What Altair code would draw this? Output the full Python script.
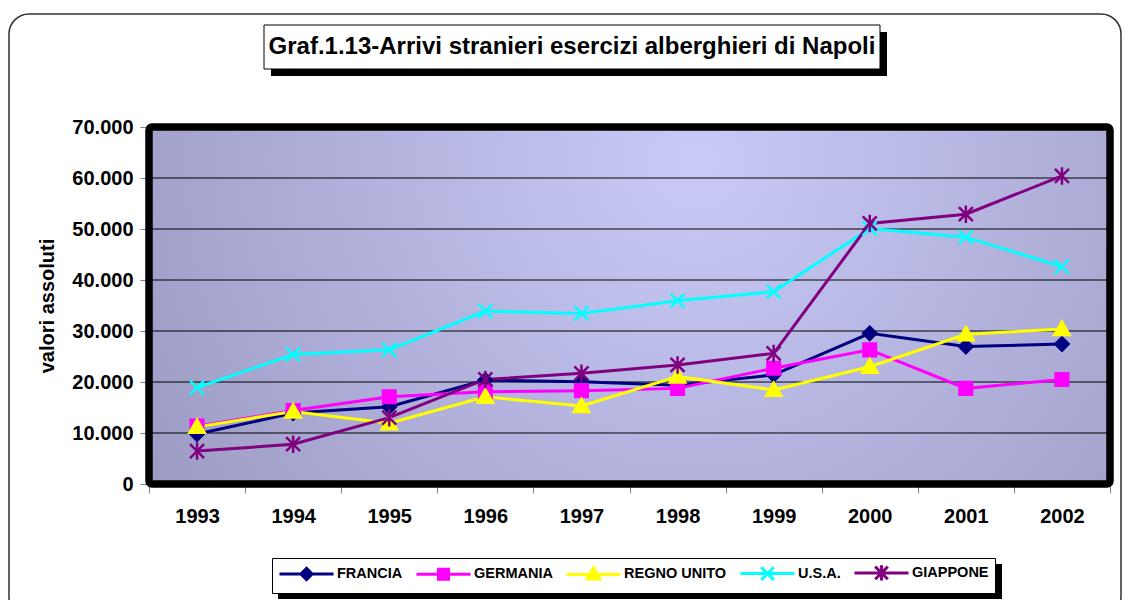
import altair as alt
import pandas as pd

# ---------------- data ----------------
years = ["1993", "1994", "1995", "1996", "1997", "1998", "1999", "2000", "2001", "2002"]
francia = [9800, 13900, 15150, 20400, 20050, 19350, 21400, 29550, 26950, 27450]
germania = [11350, 14400, 17100, 18100, 18300, 18750, 22700, 26300, 18750, 20500]
regno_unito = [11200, 14200, 11900, 17100, 15300, 21050, 18450, 23000, 29350, 30400]
usa = [18900, 25400, 26300, 33900, 33450, 35950, 37700, 50100, 48400, 42600]
giappone = [6450, 7800, 13000, 20500, 21700, 23350, 25600, 51100, 52900, 60400]

series_names = ["FRANCIA", "GERMANIA", "REGNO UNITO", "U.S.A.", "GIAPPONE"]
series_colors = ["#000080", "#FF00FF", "#FFFF00", "#00FFFF", "#800080"]
y_ticks = [0, 10000, 20000, 30000, 40000, 50000, 60000, 70000]
grid_values = [10000, 20000, 30000, 40000, 50000, 60000]
title_text = "Graf.1.13-Arrivi stranieri esercizi alberghieri di Napoli"
y_title = "valori assoluti"

# marker shapes (unit = sqrt(size)/2)
marker_paths = [
    "M0,-0.95L0.95,0L0,0.95L-0.95,0Z",
    "M-0.9,-0.9H0.9V0.9H-0.9Z",
    "M0,-1.05L1.1,0.85H-1.1Z",
    "M-1,-1L1,1M-1,1L1,-1",
    "M-1,-1L1,1M-1,1L1,-1M0,-1.25V1.25",
]
# legend symbols: line with marker
legend_paths = [
    "M-3.86,0H3.86M0,-0.8L0.8,0L0,0.8L-0.8,0Z",
    "M-3.86,0H3.86M-0.72,-0.72H0.72V0.72H-0.72Z",
    "M-3.86,0H3.86M0,-0.95L0.9,0.65H-0.9Z",
    "M-3.86,0H3.86M-0.9,-0.9L0.9,0.9M-0.9,0.9L0.9,-0.9",
    "M-3.86,0H3.86M-0.9,-0.9L0.9,0.9M-0.9,0.9L0.9,-0.9M0,-1.1V1.1",
]

all_series = [francia, germania, regno_unito, usa, giappone]
rows = []
for name, vals in zip(series_names, all_series):
    for yr, v in zip(years, vals):
        rows.append({"year": yr, "series": name, "value": v})
df = pd.DataFrame(rows)
grid_df = pd.DataFrame({"value": grid_values})
one = pd.DataFrame({"k": [0]})

W, H = 961, 357
FONT = "Liberation Sans"

x_scale = alt.Scale(domain=years, paddingInner=0, paddingOuter=0)
y_scale = alt.Scale(domain=[0, 70000], nice=False, zero=True)

x_axis = alt.Axis(title=None, domain=False, grid=False, tickBand="extent", tickSize=9,
                  tickColor="#808080", labelFont=FONT, labelFontSize=20, labelFontWeight="bold",
                  labelColor="black", labelPadding=13, labelAngle=0)
y_axis = alt.Axis(title=y_title, values=y_ticks, domain=False, grid=False, tickSize=9,
                  tickColor="#808080",
                  labelExpr="replace(format(datum.value, ','), ',', '.')",
                  labelFont=FONT, labelFontSize=20, labelFontWeight="bold", labelColor="black",
                  labelPadding=7, titleFont=FONT, titleFontSize=20, titleFontWeight="bold",
                  titleColor="black", titleX=-102, titleY=178.5, titleAngle=270,
                  titleAlign="center", titleBaseline="middle")

X = alt.X("year:N", scale=x_scale, sort=years, axis=x_axis)
Y = alt.Y("value:Q", scale=y_scale, axis=y_axis)

gradient = {
    "gradient": "radial",
    "x1": 0.57, "y1": 0.35, "r1": 0,
    "x2": 0.57, "y2": 0.35, "r2": 0.68,
    "stops": [
        {"offset": 0, "color": "#cacaf8"},
        {"offset": 1, "color": "#9a9ac2"},
    ],
}

# outer rounded frame
frame = alt.Chart(one).mark_rect(fillOpacity=0, stroke="#303030", strokeWidth=1.5,
                                 cornerRadius=20).encode(
    x=alt.value(-140), x2=alt.value(972), y=alt.value(-113), y2=alt.value(490))

bg = alt.Chart(one).mark_rect(fill=gradient).encode(
    x=alt.value(0), x2=alt.value(W), y=alt.value(0), y2=alt.value(H))

grid = alt.Chart(grid_df).mark_rule(color="black", strokeWidth=1).encode(y=Y)

lines = alt.Chart(df).mark_line(strokeWidth=3).encode(
    x=X, y=Y,
    stroke=alt.Stroke("series:N", scale=alt.Scale(domain=series_names, range=series_colors),
                      legend=None),
    order=alt.Order("year:N"),
)

points = alt.Chart(df).mark_point(filled=True, opacity=1, size=196, strokeWidth=2.5).encode(
    x=X, y=Y,
    fill=alt.Fill("series:N", scale=alt.Scale(domain=series_names, range=series_colors),
                  legend=None),
    stroke=alt.Stroke("series:N", scale=alt.Scale(domain=series_names, range=series_colors),
                      legend=None),
    shape=alt.Shape("series:N", scale=alt.Scale(domain=series_names, range=marker_paths),
                    legend=None),
)

leg = alt.Legend(orient="none", legendX=123, legendY=431, direction="horizontal", title=None,
                 symbolSize=196, symbolStrokeWidth=3, symbolOffset=20, labelOffset=22,
                 labelFont=FONT, labelFontSize=14.5, labelFontWeight="bold", labelColor="black",
                 columnPadding=7, padding=6, fillColor="white", strokeColor="black",
                 labelLimit=0, symbolOpacity=1)

legend_layer = alt.Chart(df).transform_filter("datum.value < 0").mark_point(filled=True).encode(
    x=X, y=Y,
    fill=alt.Fill("series:N", scale=alt.Scale(domain=series_names, range=series_colors),
                  legend=leg),
    stroke=alt.Stroke("series:N", scale=alt.Scale(domain=series_names, range=series_colors),
                      legend=leg),
    shape=alt.Shape("series:N", scale=alt.Scale(domain=series_names, range=legend_paths),
                    legend=leg),
)

legend_shadow = alt.Chart(one).mark_rect(fill="black").encode(
    x=alt.value(129), x2=alt.value(853), y=alt.value(437), y2=alt.value(472))

plot_border = alt.Chart(one).mark_rect(fillOpacity=0, stroke="black", strokeWidth=7.5,
                                       cornerRadius=3).encode(
    x=alt.value(0), x2=alt.value(W), y=alt.value(0), y2=alt.value(H))

title_shadow = alt.Chart(one).mark_rect(fill="black").encode(
    x=alt.value(122), x2=alt.value(738), y=alt.value(-95), y2=alt.value(-51))
title_box = alt.Chart(one).mark_rect(fill="white", stroke="black", strokeWidth=1).encode(
    x=alt.value(115), x2=alt.value(731), y=alt.value(-102), y2=alt.value(-58))
title = alt.Chart(one).mark_text(text=title_text, font=FONT, fontSize=24, fontWeight="bold",
                                 align="center", baseline="middle", color="black").encode(
    x=alt.value(423), y=alt.value(-80))

chart = alt.layer(
    frame, bg, grid, lines, points, legend_layer, plot_border,
    legend_shadow, title_shadow, title_box, title
).resolve_scale(
    fill="independent", stroke="independent", shape="independent"
).properties(
    width=W, height=H,
    padding={"left": 141, "top": 119, "right": 13, "bottom": 116},
    autosize=alt.AutoSizeParams(type="none"),
    background="white",
).configure_view(stroke=None)

chart.save("out.html", embed_options={"renderer": "svg", "actions": False})
